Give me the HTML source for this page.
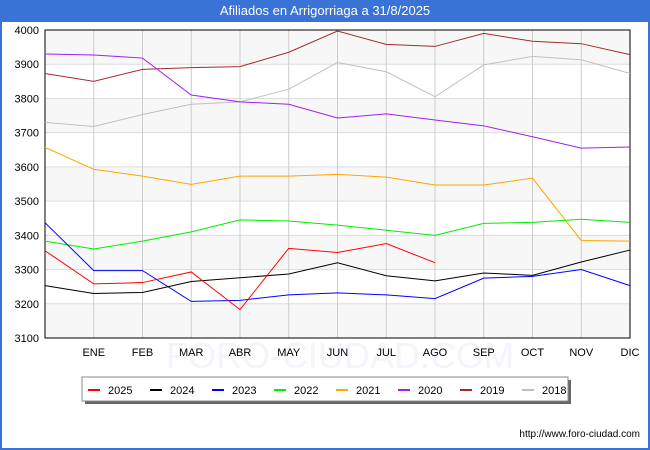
<!DOCTYPE html>
<html><head><meta charset="utf-8"><style>
body{margin:0;width:650px;height:450px;overflow:hidden;font-family:"Liberation Sans","DejaVu Sans",sans-serif;}
#wrap{position:relative;width:646px;height:448px;border:2px solid #3a73d6;border-top:none;background:#fff;}
#title{height:22px;background:#3a73d6;color:#fff;font-size:13px;text-align:center;line-height:22px;}
</style></head><body>
<div id="wrap">
<div id="title">Afiliados en Arrigorriaga a 31/8/2025</div>
<svg id="chart" width="650" height="428" style="position:absolute;left:-2px;top:22px"></svg>
</div>
<script>
const months=["","ENE","FEB","MAR","ABR","MAY","JUN","JUL","AGO","SEP","OCT","NOV","DIC"];
const yTicks=[3100,3200,3300,3400,3500,3600,3700,3800,3900,4000];
const seriesNames=["2025","2024","2023","2022","2021","2020","2019","2018"];
const seriesColors=["#ff0000","#000000","#0000ff","#00ee00","#ffa500","#a020f0","#a52a2a","#c0c0c0"];
const s2025=[3355,3258,3262,3293,3183,3362,3350,3376,3320];
const s2024=[3253,3230,3233,3265,3276,3287,3320,3282,3267,3290,3283,3322,3357];
const s2023=[3437,3297,3297,3207,3210,3226,3232,3226,3215,3275,3280,3300,3253];
const s2022=[3383,3360,3383,3410,3445,3442,3430,3415,3400,3435,3438,3447,3438];
const s2021=[3657,3593,3573,3549,3573,3573,3578,3570,3547,3547,3567,3385,3383];
const s2020=[3930,3927,3918,3810,3790,3783,3743,3755,3737,3720,3688,3655,3658];
const s2019=[3873,3850,3885,3890,3893,3935,3997,3958,3952,3990,3967,3960,3928];
const s2018=[3730,3718,3753,3783,3790,3827,3905,3878,3805,3898,3923,3913,3873];
const allSeries=[s2025,s2024,s2023,s2022,s2021,s2020,s2019,s2018];

const svg=document.getElementById('chart');
const NS="http://www.w3.org/2000/svg";
const L=45,R=630,T=8,B=316,yMin=3100,yMax=4000;
const xs=i=>L+i*(R-L)/(months.length-1);
const ys=v=>B-(v-yMin)/(yMax-yMin)*(B-T);
function mk(tag,attrs,parent){const e=document.createElementNS(NS,tag);for(const k in attrs)e.setAttribute(k,attrs[k]);(parent||svg).appendChild(e);return e;}

for(let i=0;i<yTicks.length-1;i++){
  if(i%2===0){const b=mk('rect',{x:L,y:ys(yTicks[i+1]),width:R-L,height:ys(yTicks[i])-ys(yTicks[i+1]),fill:'#f7f7f7'});
  
  }
}
yTicks.forEach(v=>{
  const g=mk('line',{x1:L,x2:R,y1:ys(v),y2:ys(v),stroke:'#dddddd','stroke-width':1});
  
  
  const t=mk('text',{x:L-6,y:ys(v)+4,'text-anchor':'end','font-size':11,fill:'#000'});
  t.textContent=v;
  
  
});
months.forEach((m,i)=>{
  if(i>0){const g=mk('line',{x1:xs(i),x2:xs(i),y1:T,y2:B,stroke:'#cccccc','stroke-width':1});
  
  }
});
const w=mk('text',{x:340,y:346,'text-anchor':'middle','font-size':36,fill:'#f3f4fc'});
w.textContent="FORO-CIUDAD.COM";


months.forEach((m,i)=>{
  const t=mk('text',{x:xs(i),y:B+18,'text-anchor':'middle','font-size':11,fill:'#000'});
  t.textContent=m;
  
  
});

const frame=mk('rect',{x:L,y:T,width:R-L,height:B-T,fill:'none',stroke:'#000','stroke-width':1});



for(let s=allSeries.length-1;s>=0;s--){
  const pts=allSeries[s].map((v,i)=>xs(i)+','+ys(v)).join(' ');
  const p=mk('polyline',{points:pts,fill:'none',stroke:seriesColors[s],'stroke-width':1});
  
  
}

const lg=mk('g',{});


mk('rect',{x:85,y:358,width:486,height:24,fill:'#666'},lg);
mk('rect',{x:82,y:355,width:486,height:24,fill:'#fff',stroke:'#888','stroke-width':1},lg);
seriesNames.forEach((n,i)=>{
  const x0=88+i*62;
  const g=mk('g',{},lg);
  
  
  mk('line',{x1:x0,x2:x0+12,y1:368,y2:368,stroke:seriesColors[i],'stroke-width':2},g);
  const t=mk('text',{x:x0+20,y:372,'font-size':11,fill:'#000'},g);
  t.textContent=n;
});
const u=mk('text',{x:640,y:415,'text-anchor':'end','font-size':10,fill:'#000'});
u.textContent="http://www.foro-ciudad.com";


</script>
</body></html>
